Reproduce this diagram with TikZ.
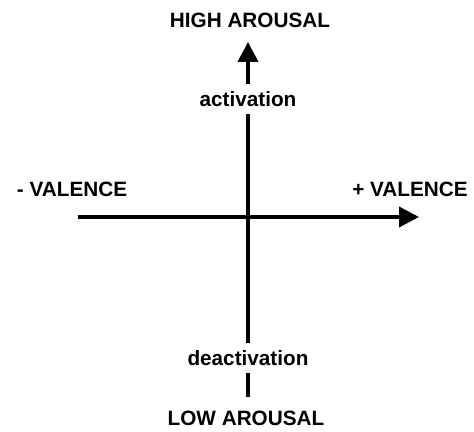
\documentclass[tikz,border=0pt]{standalone}
\usepackage{fontspec}
\setmainfont{Liberation Sans}
\usepackage{tikz}
\usetikzlibrary{arrows.meta, positioning}
\tikzset{
    pole/.style={
        font=\fontsize{11.8}{14}\selectfont\bfseries, inner sep=0pt
    },
    state/.style={
        font=\fontsize{11.8}{14}\selectfont\bfseries, inner sep=4pt, fill=white
    },
    axis/.style={
        line width=2.2pt, draw=black
    },
    axis_arrow/.style={
        line width=2.2pt, draw=black, -{Triangle[length=0.4cm, width=0.4cm]}
    }
}

\begin{document}
\begin{tikzpicture}[x=0.02cm, y=-0.02cm]
    \useasboundingbox (0, 0) rectangle (474, 432);

    \node[pole] (high) at (250, 20) {HIGH AROUSAL};
    \node[pole] (low) at (246, 418) {LOW AROUSAL};
    \node[pole] (negval) at (72, 189) {- VALENCE};
    \node[pole] (posval) at (410, 189) {+ VALENCE};

    \node[state] (act) at (248, 99) {activation};
    \node[state] (deact) at (248, 358) {deactivation};

    \coordinate (top) at (248, 42);
    \coordinate (bottom) at (248, 397);
    \coordinate (left) at (78, 217);
    \coordinate (right) at (419, 217);

    \draw[axis_arrow] (left) -- (right);
    \draw[axis] (bottom) -- (deact);
    \draw[axis] (deact) -- (act);
    \draw[axis_arrow] (act) -- (top);
\end{tikzpicture}
\end{document}
